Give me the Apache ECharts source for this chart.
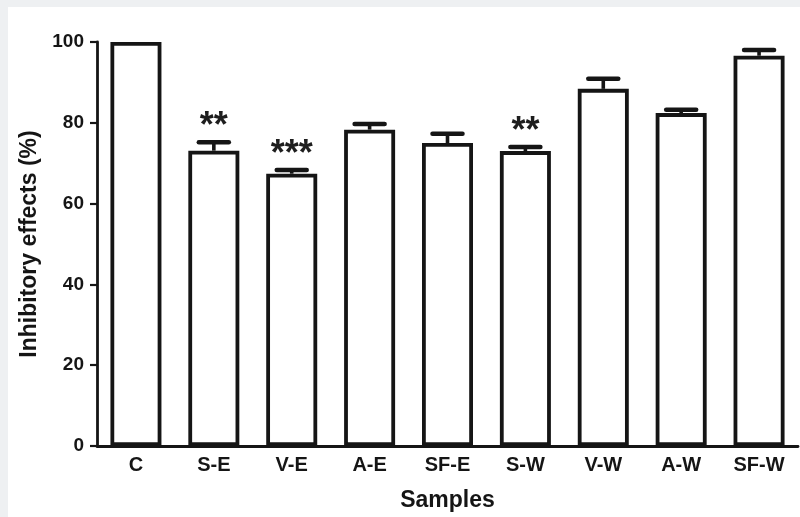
<!DOCTYPE html>
<html>
<head>
<meta charset="utf-8">
<script src="https://cdn.jsdelivr.net/npm/echarts@6/dist/echarts.min.js"></script>
<style>
  html, body { margin: 0; padding: 0; background: #eef0f2; }
  #chart { width: 800px; height: 517px; }
</style>
</head>
<body>
<div id="chart"></div>
<script>
const categories = ['C', 'S-E', 'V-E', 'A-E', 'SF-E', 'S-W', 'V-W', 'A-W', 'SF-W'];
const means      = [100, 73.1, 67.4, 78.3, 75.0, 73.0, 88.4, 82.4, 96.6];
const errorTops  = [100, 75.2, 68.3, 79.7, 77.3, 74.0, 90.9, 83.2, 98.0];
const stars      = ['', '**', '***', '', '', '**', '', '', ''];
const yTicks     = [0, 20, 40, 60, 80, 100];

const FONT = '"Liberation Sans", Arial, sans-serif';
const INK = '#151515';

const errData = categories.map((c, i) => [i, means[i], errorTops[i]]);

const chart = echarts.init(document.getElementById('chart'));
chart.setOption({
  backgroundColor: '#eef0f2',
  animation: false,
  graphic: [{
    type: 'rect', z: -10, silent: true,
    shape: { x: 8, y: 7, width: 800, height: 520 },
    style: { fill: '#ffffff' }
  }],
  grid: { left: 97, right: 2, top: 42, bottom: 67, containLabel: false },
  xAxis: {
    type: 'category',
    data: categories,
    name: 'Samples',
    nameLocation: 'middle',
    nameGap: 43,
    nameTextStyle: { fontFamily: FONT, fontWeight: 'bold', fontSize: 23, color: INK },
    axisLine: { lineStyle: { color: INK, width: 2.8 } },
    axisTick: { alignWithLabel: true, length: 6, lineStyle: { color: INK, width: 2.2 } },
    axisLabel: { margin: 9, fontFamily: FONT, fontWeight: 'bold', fontSize: 20, color: INK },
    splitLine: { show: false }
  },
  yAxis: {
    type: 'value',
    min: 0, max: 100, interval: 20,
    name: 'Inhibitory effects (%)',
    nameLocation: 'middle',
    nameGap: 53,
    nameRotate: 90,
    nameTextStyle: { fontFamily: FONT, fontWeight: 'bold', fontSize: 23, color: INK },
    axisLine: { show: true, lineStyle: { color: INK, width: 2.8 } },
    axisTick: { show: true, length: 7, lineStyle: { color: INK, width: 2.2 } },
    axisLabel: {
      margin: 13, fontFamily: FONT, fontWeight: 'bold', fontSize: 19, color: INK,
      formatter: v => (yTicks.indexOf(v) >= 0 ? String(v) : '')
    },
    splitLine: { show: false }
  },
  series: [
    {
      type: 'bar',
      data: means,
      barWidth: 51,
      itemStyle: { color: '#ffffff', borderColor: INK, borderWidth: 3.8 },
      z: 2
    },
    {
      type: 'custom',
      data: errData,
      z: 3,
      renderItem: function (params, api) {
        const i = api.value(0);
        const base = api.coord([i, api.value(1)]);
        const top = api.coord([i, api.value(2)]);
        const half = 15;
        const children = [];
        if (api.value(2) > api.value(1)) {
          children.push({
            type: 'line',
            shape: { x1: base[0], y1: base[1], x2: top[0], y2: top[1] },
            style: { stroke: INK, lineWidth: 3.6 }
          });
          children.push({
            type: 'line',
            shape: { x1: top[0] - half, y1: top[1], x2: top[0] + half, y2: top[1] },
            style: { stroke: INK, lineWidth: 4.5, lineCap: 'round' }
          });
        }
        const s = stars[params.dataIndex];
        if (s) {
          children.push({
            type: 'text',
            style: {
              x: top[0], y: top[1] - 15,
              text: s,
              fill: '#1e1e1e',
              font: 'bold 36px ' + FONT,
              align: 'center',
              verticalAlign: 'middle'
            }
          });
        }
        return { type: 'group', children: children };
      }
    }
  ]
});
</script>
</body>
</html>
